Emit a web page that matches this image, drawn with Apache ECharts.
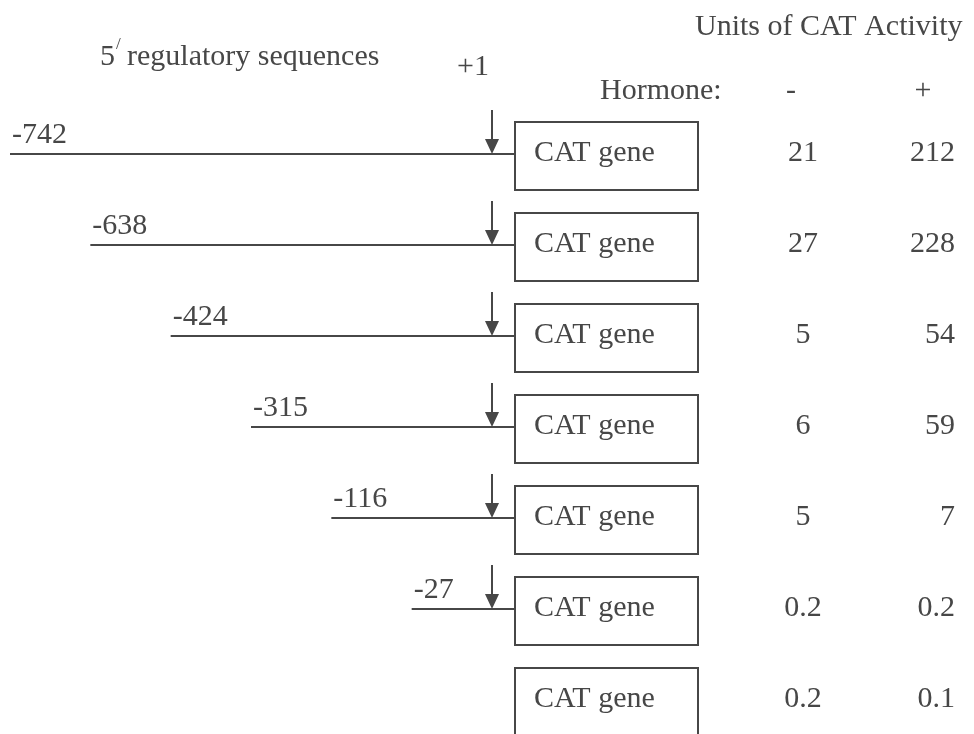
<!DOCTYPE html>
<html>
<head>
<meta charset="utf-8">
<script src="https://cdn.jsdelivr.net/npm/echarts@6/dist/echarts.min.js"></script>
<style>
  html, body { margin: 0; padding: 0; background: #fff; }
  #chart { width: 974px; height: 734px; }
</style>
</head>
<body>
<div id="chart"></div>
<script>
// 5' end of each deletion construct, and the transcription start site
const startSites = ['-742', '-638', '-424', '-315', '-116', '-27']
const tssLabel = '+1'
// one row per construct; the last one has no promoter left
const constructs = [...startSites, 'none']
const geneLabel = 'CAT gene'
// units of CAT activity without / with hormone
const minusHormone = [21, 27, 5, 6, 5, 0.2, 0.2]
const plusHormone = [212, 228, 54, 59, 7, 0.2, 0.1]

const ink = '#474747'
const font = '"Liberation Serif", "Times New Roman", serif'

const txt = (x, y, text, align, size) => ({
  type: 'text', x, y,
  style: { text, fill: ink, fontSize: size || 30, fontFamily: font, align: align || 'left', verticalAlign: 'middle', textAlign: align || 'left', textVerticalAlign: 'middle' }
})

const chart = echarts.init(document.getElementById('chart'))

chart.setOption({
  backgroundColor: '#fff',
  animation: false,
  grid: { left: 10, right: 482, top: 110, height: 638, outerBoundsMode: 'none' },
  xAxis: { type: 'category', data: [...startSites, tssLabel], boundaryGap: false, show: false },
  yAxis: { type: 'category', data: constructs, inverse: true, show: false },
  graphic: [
    txt(695, 27, 'Units of CAT Activity'),
    txt(100, 57, '5'),
    txt(116, 45, '/', 'left', 17),
    txt(127, 57, 'regulatory sequences'),
    txt(457, 67, tssLabel),
    txt(600, 91, 'Hormone:'),
    txt(791, 91, '-', 'center'),
    txt(923, 91, '+', 'center')
  ],
  series: [
    {
      // promoter fragment, its end label and the +1 arrow
      type: 'custom',
      data: startSites.map((s, i) => [s, i]),
      renderItem: (params, api) => {
        const p = api.coord([api.value(0), api.value(1)])
        const tss = api.coord([startSites.length, api.value(1)])
        const y = Math.round(p[1]) - 2
        const ax = Math.round(tss[0])
        return {
          type: 'group',
          children: [
            { type: 'line', shape: { x1: p[0], y1: y, x2: ax + 23, y2: y }, style: { stroke: ink, lineWidth: 2 } },
            { type: 'line', shape: { x1: ax, y1: y - 44, x2: ax, y2: y - 12 }, style: { stroke: ink, lineWidth: 2 } },
            { type: 'polygon', shape: { points: [[ax - 7, y - 15], [ax + 7, y - 15], [ax, y]] }, style: { fill: ink } },
            txt(p[0] + 2, y - 19, startSites[params.dataIndex])
          ]
        }
      }
    },
    {
      // reporter box
      type: 'custom',
      data: constructs.map((c, i) => [tssLabel, i]),
      renderItem: (params, api) => {
        const c = api.coord([api.value(0), api.value(1)])
        const yc = Math.round(c[1])
        const bx = Math.round(c[0]) + 23
        return {
          type: 'group',
          children: [
            { type: 'rect', shape: { x: bx, y: yc - 34, width: 183, height: 68 }, style: { fill: 'none', stroke: ink, lineWidth: 2 } },
            txt(bx + 19, yc - 3, geneLabel)
          ]
        }
      }
    },
    {
      // activity columns
      type: 'custom',
      data: constructs.map((c, i) => [tssLabel, i, minusHormone[i], plusHormone[i]]),
      renderItem: (params, api) => {
        const c = api.coord([api.value(0), api.value(1)])
        const yc = Math.round(c[1])
        const x0 = Math.round(c[0])
        return {
          type: 'group',
          children: [
            txt(x0 + 311, yc - 3, String(api.value(2)), 'center'),
            txt(x0 + 463, yc - 3, String(api.value(3)), 'right')
          ]
        }
      }
    }
  ]
})
</script>
</body>
</html>
